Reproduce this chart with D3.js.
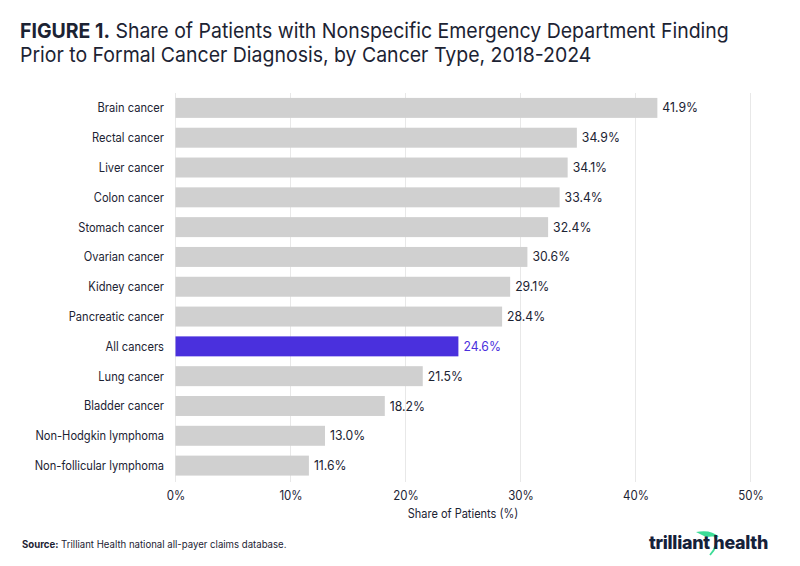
<!DOCTYPE html>
<html>
<head>
<meta charset="utf-8">
<script src="https://cdn.jsdelivr.net/npm/d3@7"></script>
<style>
  body { margin: 0; background: #fff; }
  text { font-family: Inter, "Noto Sans", sans-serif; }
</style>
</head>
<body>
<div id="chart"></div>
<script>
// data
var categories = ["Brain cancer", "Rectal cancer", "Liver cancer", "Colon cancer", "Stomach cancer",
    "Ovarian cancer", "Kidney cancer", "Pancreatic cancer", "All cancers", "Lung cancer",
    "Bladder cancer", "Non-Hodgkin lymphoma", "Non-follicular lymphoma"];
var values = [41.9, 34.9, 34.1, 33.4, 32.4, 30.6, 29.1, 28.4, 24.6, 21.5, 18.2, 13.0, 11.6];
var ticks = [0, 10, 20, 30, 40, 50];
var highlight = "All cancers";

const width = 800, height = 566;
const ink = "#1c2333";
const purple = "#4a30dd";

const svg = d3.select("#chart").append("svg")
    .attr("width", width)
    .attr("height", height);

// the original font is a bit narrower than Inter, squeeze text a little
function squeeze(sel, f) {
    sel.each(function() {
        var w = this.getComputedTextLength();
        d3.select(this).attr("textLength", w * f).attr("lengthAdjust", "spacingAndGlyphs");
    });
}

// title
var title = svg.append("text")
    .attr("x", 20)
    .attr("y", 38)
    .style("font-size", "20.5px")
    .style("fill", ink);
title.append("tspan").style("font-weight", "bold").text("FIGURE 1.");
title.append("tspan").text(" Share of Patients with Nonspecific Emergency Department Finding");
var title2 = svg.append("text")
    .attr("x", 20)
    .attr("y", 62)
    .style("font-size", "20.5px")
    .style("fill", ink)
    .text("Prior to Formal Cancer Diagnosis, by Cancer Type, 2018-2024");
squeeze(title, 0.95);
squeeze(title2, 0.95);

var x = d3.scaleLinear().domain([0, 50]).range([175.5, 750.5]);
var y = d3.scaleBand().domain(categories).range([93, 480.5]).paddingInner(0.33).paddingOuter(0.165);

// gridlines
svg.append("g").selectAll("line")
    .data(ticks)
    .enter()
    .append("line")
    .attr("x1", d => x(d))
    .attr("x2", d => x(d))
    .attr("y1", 93)
    .attr("y2", 482)
    .attr("stroke", "#e8e8e8")
    .attr("stroke-width", 1);

// bars
svg.append("g").selectAll("rect")
    .data(categories)
    .enter()
    .append("rect")
    .attr("x", x(0))
    .attr("y", d => y(d))
    .attr("height", y.bandwidth())
    .attr("width", (d, i) => x(values[i]) - x(0))
    .attr("fill", d => d == highlight ? purple : "#d0d0d0");

// value labels
var vals = svg.append("g").selectAll("text")
    .data(categories)
    .enter()
    .append("text")
    .attr("x", (d, i) => x(values[i]) + 5)
    .attr("y", d => y(d) + y.bandwidth() / 2)
    .attr("dy", "0.35em")
    .style("font-size", "13px")
    .style("fill", d => d == highlight ? purple : ink)
    .text((d, i) => values[i].toFixed(1) + "%");
squeeze(vals, 0.94);

// category labels
var labels = svg.append("g").selectAll("text")
    .data(categories)
    .enter()
    .append("text")
    .attr("x", 164)
    .attr("y", d => y(d) + y.bandwidth() / 2)
    .attr("dy", "0.35em")
    .attr("text-anchor", "end")
    .style("font-size", "12.5px")
    .style("fill", ink)
    .text(d => d);
squeeze(labels, 0.89);

// x axis
var xAxis = svg.append("g")
    .attr("transform", "translate(0,482)")
    .call(d3.axisBottom(x).tickValues(ticks).tickSize(0).tickPadding(9).tickFormat(d => d + "%"));
xAxis.select(".domain").remove();
xAxis.selectAll("text")
    .style("font-size", "12.5px")
    .style("font-family", "Inter, sans-serif")
    .style("fill", ink);
squeeze(xAxis.selectAll("text"), 0.92);

var axTitle = svg.append("text")
    .attr("x", x(25))
    .attr("y", 518)
    .attr("text-anchor", "middle")
    .style("font-size", "12.5px")
    .style("fill", ink)
    .text("Share of Patients (%)");
squeeze(axTitle, 0.88);

// source note
var src = svg.append("text")
    .attr("x", 22)
    .attr("y", 548)
    .style("font-size", "10px")
    .style("fill", ink);
src.append("tspan").style("font-weight", "bold").text("Source:");
src.append("tspan").text(" Trilliant Health national all-payer claims database.");
squeeze(src, 0.96);

// logo
var logo = svg.append("g").attr("transform", "translate(649,549)");
logo.append("path")
    .attr("d", "M 47 -17 Q 62 -20 70 -12 Q 63 -13 57 -12 Z")
    .attr("fill", "#3ddc97");
logo.append("path")
    .attr("d", "M 66 -13 Q 70 -4 61 6")
    .attr("fill", "none")
    .attr("stroke", "#3ddc97")
    .attr("stroke-width", 1.8);
var logoText = logo.append("text")
    .attr("x", 0)
    .attr("y", 0)
    .style("font-size", "18.5px")
    .style("font-weight", "800")
    .style("letter-spacing", "-0.3px")
    .style("fill", "#15213a")
    .text("trilliant health");
logoText.attr("textLength", 119).attr("lengthAdjust", "spacingAndGlyphs");
</script>
</body>
</html>
